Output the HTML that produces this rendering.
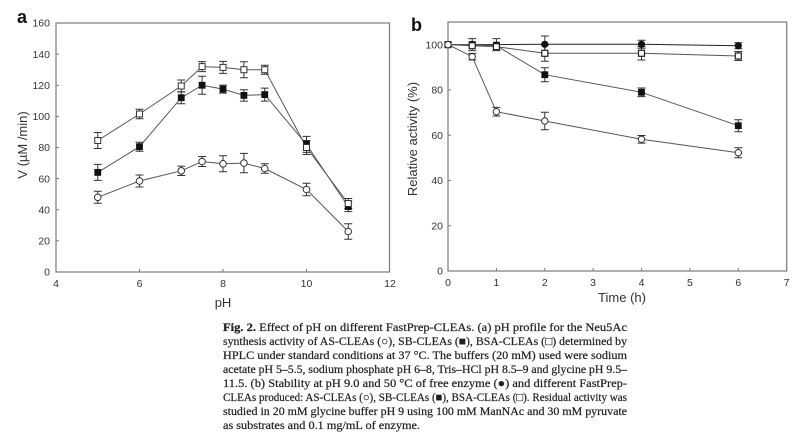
<!DOCTYPE html>
<html>
<head>
<meta charset="utf-8">
<style>
html,body{margin:0;padding:0;background:#fff;}
body{width:800px;height:438px;overflow:hidden;}
svg{display:block;}
.tk{font-family:"Liberation Sans",Arial,sans-serif;font-size:10.5px;fill:#333;}
.ax{font-family:"Liberation Sans",Arial,sans-serif;font-size:13px;fill:#333;}
.cap{font-family:"Liberation Serif","DejaVu Serif",serif;font-size:11.6px;fill:#231f20;stroke:#231f20;stroke-width:0.22px;}
</style>
</head>
<body>
<svg width="800" height="438" viewBox="0 0 800 438" xmlns="http://www.w3.org/2000/svg">
<!-- Panel a -->
<text x="17" y="23" font-family="Liberation Sans,Arial,sans-serif" font-weight="bold" font-size="18" fill="#111">a</text>
<rect x="56" y="23" width="333.5" height="249" fill="none" stroke="#7a7a7a" stroke-width="1.2"/>
<g stroke="#7a7a7a" stroke-width="1">
<path d="M56 240.9H59M56 209.75H59M56 178.6H59M56 147.5H59M56 116.4H59M56 85.25H59M56 54.1H59"/>
<path d="M139.5 272V269M223 272V269M306.5 272V269"/>
</g>
<g class="tk" text-anchor="end">
<text x="50" y="275.7">0</text>
<text x="50" y="244.6">20</text>
<text x="50" y="213.4">40</text>
<text x="50" y="182.3">60</text>
<text x="50" y="151.2">80</text>
<text x="50" y="120.1">100</text>
<text x="50" y="89">120</text>
<text x="50" y="57.8">140</text>
<text x="50" y="26.7">160</text>
</g>
<g class="tk" text-anchor="middle">
<text x="56" y="287">4</text>
<text x="139.5" y="287">6</text>
<text x="223" y="287">8</text>
<text x="306.5" y="287">10</text>
<text x="390" y="287">12</text>
</g>
<text class="ax" x="223" y="307" text-anchor="middle">pH</text>
<text class="ax" x="27" y="145" text-anchor="middle" transform="rotate(-90 27 145)">V (µM /min)</text>

<g fill="none" stroke="#555" stroke-width="1">
<polyline points="97.75,140.5 139.5,114 181.25,86 202.1,66.6 223,67.4 243.9,69.7 264.75,69.7 306.5,147.5 348.25,203.5"/>
<polyline points="97.75,172.4 139.5,146.7 181.25,97.7 202.1,85.25 223,89.1 243.9,95.4 264.75,94.6 306.5,144.4 348.25,206.6"/>
<polyline points="97.75,197.3 139.5,181 181.25,170.8 202.1,161.5 223,163.8 243.9,163.1 264.75,168.5 306.5,189.5 348.25,231.5"/>
</g>
<g fill="none" stroke="#333" stroke-width="1">
<path d="M97.75 132.5V148.5M93.75 132.5H101.75M93.75 148.5H101.75M139.5 109.3V118.7M135.5 109.3H143.5M135.5 118.7H143.5M181.25 80V92M177.25 80H185.25M177.25 92H185.25M202.1 61.6V71.6M198.1 61.6H206.1M198.1 71.6H206.1M223 61.4V73.4M219 61.4H227M219 73.4H227M243.9 61.7V77.7M239.9 61.7H247.9M239.9 77.7H247.9M264.75 65.2V74.2M260.75 65.2H268.75M260.75 74.2H268.75M306.5 140.5V154.5M302.5 140.5H310.5M302.5 154.5H310.5M348.25 198.5V208.5M344.25 198.5H352.25M344.25 208.5H352.25"/>
<path d="M97.75 164.4V180.4M93.75 164.4H101.75M93.75 180.4H101.75M139.5 142.2V151.2M135.5 142.2H143.5M135.5 151.2H143.5M181.25 91.7V103.7M177.25 91.7H185.25M177.25 103.7H185.25M202.1 76.25V94.25M198.1 76.25H206.1M198.1 94.25H206.1M223 85.1V93.1M219 85.1H227M219 93.1H227M243.9 89.7V101.1M239.9 89.7H247.9M239.9 101.1H247.9M264.75 88.1V101.1M260.75 88.1H268.75M260.75 101.1H268.75M306.5 136.4V152.4M302.5 136.4H310.5M302.5 152.4H310.5M348.25 201.6V211.6M344.25 201.6H352.25M344.25 211.6H352.25"/>
<path d="M97.75 191.3V203.3M93.75 191.3H101.75M93.75 203.3H101.75M139.5 175V187M135.5 175H143.5M135.5 187H143.5M181.25 166.1V175.5M177.25 166.1H185.25M177.25 175.5H185.25M202.1 156.5V166.5M198.1 156.5H206.1M198.1 166.5H206.1M223 155.8V171.8M219 155.8H227M219 171.8H227M243.9 153.4V172.8M239.9 153.4H247.9M239.9 172.8H247.9M264.75 163.8V173.2M260.75 163.8H268.75M260.75 173.2H268.75M306.5 183.2V195.8M302.5 183.2H310.5M302.5 195.8H310.5M348.25 223.8V239.2M344.25 223.8H352.25M344.25 239.2H352.25"/>
</g>
<!-- SB filled squares -->
<g fill="#111" stroke="#111" stroke-width="0.8">
<rect x="94.75" y="169.4" width="6" height="6"/>
<rect x="136.5" y="143.7" width="6" height="6"/>
<rect x="178.25" y="94.7" width="6" height="6"/>
<rect x="199.1" y="82.25" width="6" height="6"/>
<rect x="220" y="86.1" width="6" height="6"/>
<rect x="240.9" y="92.4" width="6" height="6"/>
<rect x="261.75" y="91.6" width="6" height="6"/>
<rect x="303.5" y="141.4" width="6" height="6"/>
<rect x="345.25" y="203.6" width="6" height="6"/>
</g>
<!-- BSA open squares -->
<g fill="#fff" stroke="#333" stroke-width="1">
<rect x="94.75" y="137.5" width="6" height="6"/>
<rect x="136.5" y="111" width="6" height="6"/>
<rect x="178.25" y="83" width="6" height="6"/>
<rect x="199.1" y="63.6" width="6" height="6"/>
<rect x="220" y="64.4" width="6" height="6"/>
<rect x="240.9" y="66.7" width="6" height="6"/>
<rect x="261.75" y="66.7" width="6" height="6"/>
<rect x="303.5" y="144.5" width="6" height="6"/>
<rect x="345.25" y="200.5" width="6" height="6"/>
</g>
<!-- AS open circles -->
<g fill="#fff" stroke="#333" stroke-width="1">
<circle cx="97.75" cy="197.3" r="3.3"/>
<circle cx="139.5" cy="181" r="3.3"/>
<circle cx="181.25" cy="170.8" r="3.3"/>
<circle cx="202.1" cy="161.5" r="3.3"/>
<circle cx="223" cy="163.8" r="3.3"/>
<circle cx="243.9" cy="163.1" r="3.3"/>
<circle cx="264.75" cy="168.5" r="3.3"/>
<circle cx="306.5" cy="189.5" r="3.3"/>
<circle cx="348.25" cy="231.5" r="3.3"/>
</g>

<!-- Panel b -->
<text x="411" y="31" font-family="Liberation Sans,Arial,sans-serif" font-weight="bold" font-size="18" fill="#111">b</text>
<rect x="448" y="22" width="338.7" height="249" fill="none" stroke="#7a7a7a" stroke-width="1.2"/>
<g stroke="#7a7a7a" stroke-width="1">
<path d="M448 225.7H451M448 180.5H451M448 135.2H451M448 89.9H451M448 44.6H451"/>
<path d="M496.4 271V268M544.8 271V268M593.1 271V268M641.5 271V268M689.9 271V268M738.3 271V268"/>
</g>
<g class="tk" text-anchor="end">
<text x="443" y="274.7">0</text>
<text x="443" y="229.4">20</text>
<text x="443" y="184.2">40</text>
<text x="443" y="138.9">60</text>
<text x="443" y="93.6">80</text>
<text x="443" y="48.3">100</text>
</g>
<g class="tk" text-anchor="middle">
<text x="448" y="286">0</text>
<text x="496.4" y="286">1</text>
<text x="544.8" y="286">2</text>
<text x="593.1" y="286">3</text>
<text x="641.5" y="286">4</text>
<text x="689.9" y="286">5</text>
<text x="738.3" y="286">6</text>
<text x="786.7" y="286">7</text>
</g>
<text class="ax" x="622" y="302" text-anchor="middle">Time (h)</text>
<text class="ax" x="417" y="139" text-anchor="middle" font-size="12.5" transform="rotate(-90 417 139)">Relative activity (%)</text>

<g fill="none" stroke-width="1">
<polyline stroke="#222" points="448,44.6 472.2,44.6 496.4,44.6 544.8,44.3 641.5,44.3 738.3,45.7"/>
<polyline stroke="#555" points="448,44.6 472.2,45.7 496.4,46.7 544.8,53.3 641.5,53.3 738.3,56"/>
<polyline stroke="#555" points="448,44.6 472.2,45 496.4,45.7 544.8,74.7 641.5,92.3 738.3,125.7"/>
<polyline stroke="#555" points="448,44.6 472.2,56.7 496.4,111.7 544.8,121 641.5,139.3 738.3,152.7"/>
</g>
<g fill="none" stroke="#333" stroke-width="1">
<path d="M472.2 38.6V50.6M468.2 38.6H476.2M468.2 50.6H476.2M496.4 38.6V50.6M492.4 38.6H500.4M492.4 50.6H500.4M544.8 36V52.6M540.8 36H548.8M540.8 52.6H548.8M641.5 40.3V48.3M637.5 40.3H645.5M637.5 48.3H645.5M738.3 42.7V48.7M734.3 42.7H742.3M734.3 48.7H742.3"/>
<path d="M544.8 45.3V61.3M540.8 45.3H548.8M540.8 61.3H548.8M641.5 46.6V60M637.5 46.6H645.5M637.5 60H645.5M738.3 51.5V60.5M734.3 51.5H742.3M734.3 60.5H742.3"/>
<path d="M544.8 67.7V81.7M540.8 67.7H548.8M540.8 81.7H548.8M641.5 88V96.6M637.5 88H645.5M637.5 96.6H645.5M738.3 119.7V131.7M734.3 119.7H742.3M734.3 131.7H742.3"/>
<path d="M472.2 53.4V60M468.2 53.4H476.2M468.2 60H476.2M496.4 107.4V116M492.4 107.4H500.4M492.4 116H500.4M544.8 112.3V129.7M540.8 112.3H548.8M540.8 129.7H548.8M641.5 135.5V143.1M637.5 135.5H645.5M637.5 143.1H645.5M738.3 147.7V157.7M734.3 147.7H742.3M734.3 157.7H742.3"/>
</g>
<!-- free enzyme filled circles -->
<g fill="#111" stroke="#111" stroke-width="0.8">
<circle cx="544.8" cy="44.3" r="3.2"/>
<circle cx="641.5" cy="44.3" r="3.2"/>
<circle cx="738.3" cy="45.7" r="3.2"/>
</g>
<!-- SB filled squares -->
<g fill="#111" stroke="#111" stroke-width="0.8">
<rect x="469.2" y="41.5" width="6" height="6"/>
<rect x="493.4" y="42.2" width="6" height="6"/>
<rect x="541.8" y="71.7" width="6" height="6"/>
<rect x="638.5" y="89.3" width="6" height="6"/>
<rect x="735.3" y="122.7" width="6" height="6"/>
</g>
<!-- BSA open squares -->
<g fill="#fff" stroke="#222" stroke-width="1.2">
<rect x="445" y="41.6" width="6" height="6"/>
<rect x="469.2" y="42.7" width="6" height="6"/>
<rect x="493.4" y="43.7" width="6" height="6"/>
<rect x="541.8" y="50.3" width="6" height="6"/>
<rect x="638.5" y="50.3" width="6" height="6"/>
<rect x="735.3" y="53" width="6" height="6"/>
</g>
<!-- AS open circles -->
<g fill="#fff" stroke="#333" stroke-width="1">
<circle cx="448" cy="44.6" r="3.2"/>
<circle cx="472.2" cy="56.7" r="3.2"/>
<circle cx="496.4" cy="111.7" r="3.2"/>
<circle cx="544.8" cy="121" r="3.2"/>
<circle cx="641.5" cy="139.3" r="3.2"/>
<circle cx="738.3" cy="152.7" r="3.2"/>
</g>

<!-- Caption -->
<g class="cap">
<text x="223" y="331" textLength="404" lengthAdjust="spacingAndGlyphs"><tspan font-weight="bold">Fig. 2.</tspan> Effect of pH on different FastPrep-CLEAs. (a) pH profile for the Neu5Ac</text>
<text x="223" y="345" textLength="404" lengthAdjust="spacingAndGlyphs">synthesis activity of AS-CLEAs (○), SB-CLEAs (■), BSA-CLEAs (□) determined by</text>
<text x="223" y="359" textLength="404" lengthAdjust="spacingAndGlyphs">HPLC under standard conditions at 37 °C. The buffers (20 mM) used were sodium</text>
<text x="223" y="373" textLength="404" lengthAdjust="spacingAndGlyphs">acetate pH 5–5.5, sodium phosphate pH 6–8, Tris–HCl pH 8.5–9 and glycine pH 9.5–</text>
<text x="223" y="387" textLength="404" lengthAdjust="spacingAndGlyphs">11.5. (b) Stability at pH 9.0 and 50 °C of free enzyme (●) and different FastPrep-</text>
<text x="223" y="401" textLength="404" lengthAdjust="spacingAndGlyphs">CLEAs produced: AS-CLEAs (○), SB-CLEAs (■), BSA-CLEAs (□). Residual activity was</text>
<text x="223" y="415" textLength="404" lengthAdjust="spacingAndGlyphs">studied in 20 mM glycine buffer pH 9 using 100 mM ManNAc and 30 mM pyruvate</text>
<text x="223" y="429" textLength="197" lengthAdjust="spacingAndGlyphs">as substrates and 0.1 mg/mL of enzyme.</text>
</g>
</svg>
</body>
</html>
